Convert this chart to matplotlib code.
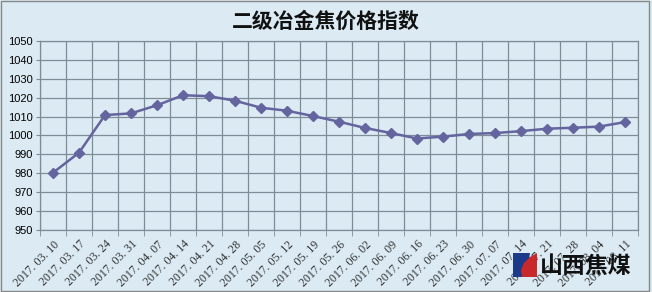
import matplotlib.pyplot as plt
from matplotlib.patches import Polygon, Rectangle

plt.rcParams['font.family'] = ['Noto Sans CJK SC', 'DejaVu Sans']

TITLE = '二级冶金焦价格指数'
DATES = ['2017. 03. 10', '2017. 03. 17', '2017. 03. 24', '2017. 03. 31',
         '2017. 04. 07', '2017. 04. 14', '2017. 04. 21', '2017. 04. 28',
         '2017. 05. 05', '2017. 05. 12', '2017. 05. 19', '2017. 05. 26',
         '2017. 06. 02', '2017. 06. 09', '2017. 06. 16', '2017. 06. 23',
         '2017. 06. 30', '2017. 07. 07', '2017. 07. 14', '2017. 07. 21',
         '2017. 07. 28', '2017. 08. 04', '2017. 08. 11']
INDEX = [980.3, 990.9, 1010.8, 1011.7, 1016.0, 1021.3, 1020.8, 1018.4,
         1014.7, 1013.1, 1010.3, 1007.3, 1004.0, 1001.3, 998.4, 999.4,
         1000.8, 1001.3, 1002.3, 1003.6, 1004.1, 1004.7, 1007.1]
Y_TICKS = list(range(950, 1051, 10))

BG = '#dbeaf3'
GRID = '#7d8c96'
LINE = '#64649f'

W, H = 652, 292
fig = plt.figure(figsize=(W / 100, H / 100), dpi=100, facecolor=BG)
ax = fig.add_axes([40 / W, 1 - 230 / H, 598 / W, 189 / H])
ax.set_facecolor(BG)

x = list(range(len(DATES)))
ax.plot(x, INDEX, color=LINE, linewidth=1.8, marker='D', markersize=5.5,
        markerfacecolor=LINE, markeredgecolor=LINE, zorder=3)

ax.set_xlim(-0.5, len(DATES) - 0.5)
ax.set_ylim(950, 1050)
ax.set_yticks(Y_TICKS)
ax.set_yticklabels([str(v) for v in Y_TICKS], fontsize=8,
                   family=['Liberation Sans'])
ax.set_xticks([i - 0.5 for i in range(len(DATES) + 1)], minor=True)
ax.set_xticks(x)
ax.set_xticklabels(DATES, rotation=45, ha='right', rotation_mode='anchor',
                   fontsize=8.5, family=['Liberation Serif'], color='#333333')
ax.tick_params(axis='x', which='major', length=0, pad=6)
ax.tick_params(axis='x', which='minor', length=4, color=GRID, direction='out')
ax.tick_params(axis='y', length=3, color=GRID, pad=2)

ax.grid(True, which='minor', axis='x', color=GRID, linewidth=0.9)
ax.grid(True, which='major', axis='y', color=GRID, linewidth=0.9)
for s in ax.spines.values():
    s.set_color(GRID)
    s.set_linewidth(0.9)

fig.text(0.5, 1 - 21 / H, TITLE, ha='center', va='center', fontsize=15,
         fontweight='bold', color='#111111')

# frame round the figure
fig.add_artist(Rectangle((0.002, 0.004), 0.994, 0.992, transform=fig.transFigure,
                         fill=False, edgecolor='#888888', linewidth=1))

# company logo, bottom right
def fp(px, py):
    return (px / W, 1 - py / H)

fig.add_artist(Polygon([fp(513, 253), fp(530, 253), fp(526, 277), fp(513, 277)],
                       closed=True, transform=fig.transFigure,
                       facecolor='#1d3a8a', edgecolor='none', zorder=5))
fig.add_artist(Polygon([fp(537, 253), fp(537, 277), fp(522, 277), fp(521, 270),
                        fp(524, 263), fp(530, 257)],
                       closed=True, transform=fig.transFigure,
                       facecolor='#c8282a', edgecolor='none', zorder=6))
fig.text(540 / W, 1 - 266 / H, '山西焦煤', ha='left', va='center', fontsize=16.5,
         fontweight='bold', color='#111111', zorder=7)

fig.savefig('out.png', dpi=100, facecolor=BG)
